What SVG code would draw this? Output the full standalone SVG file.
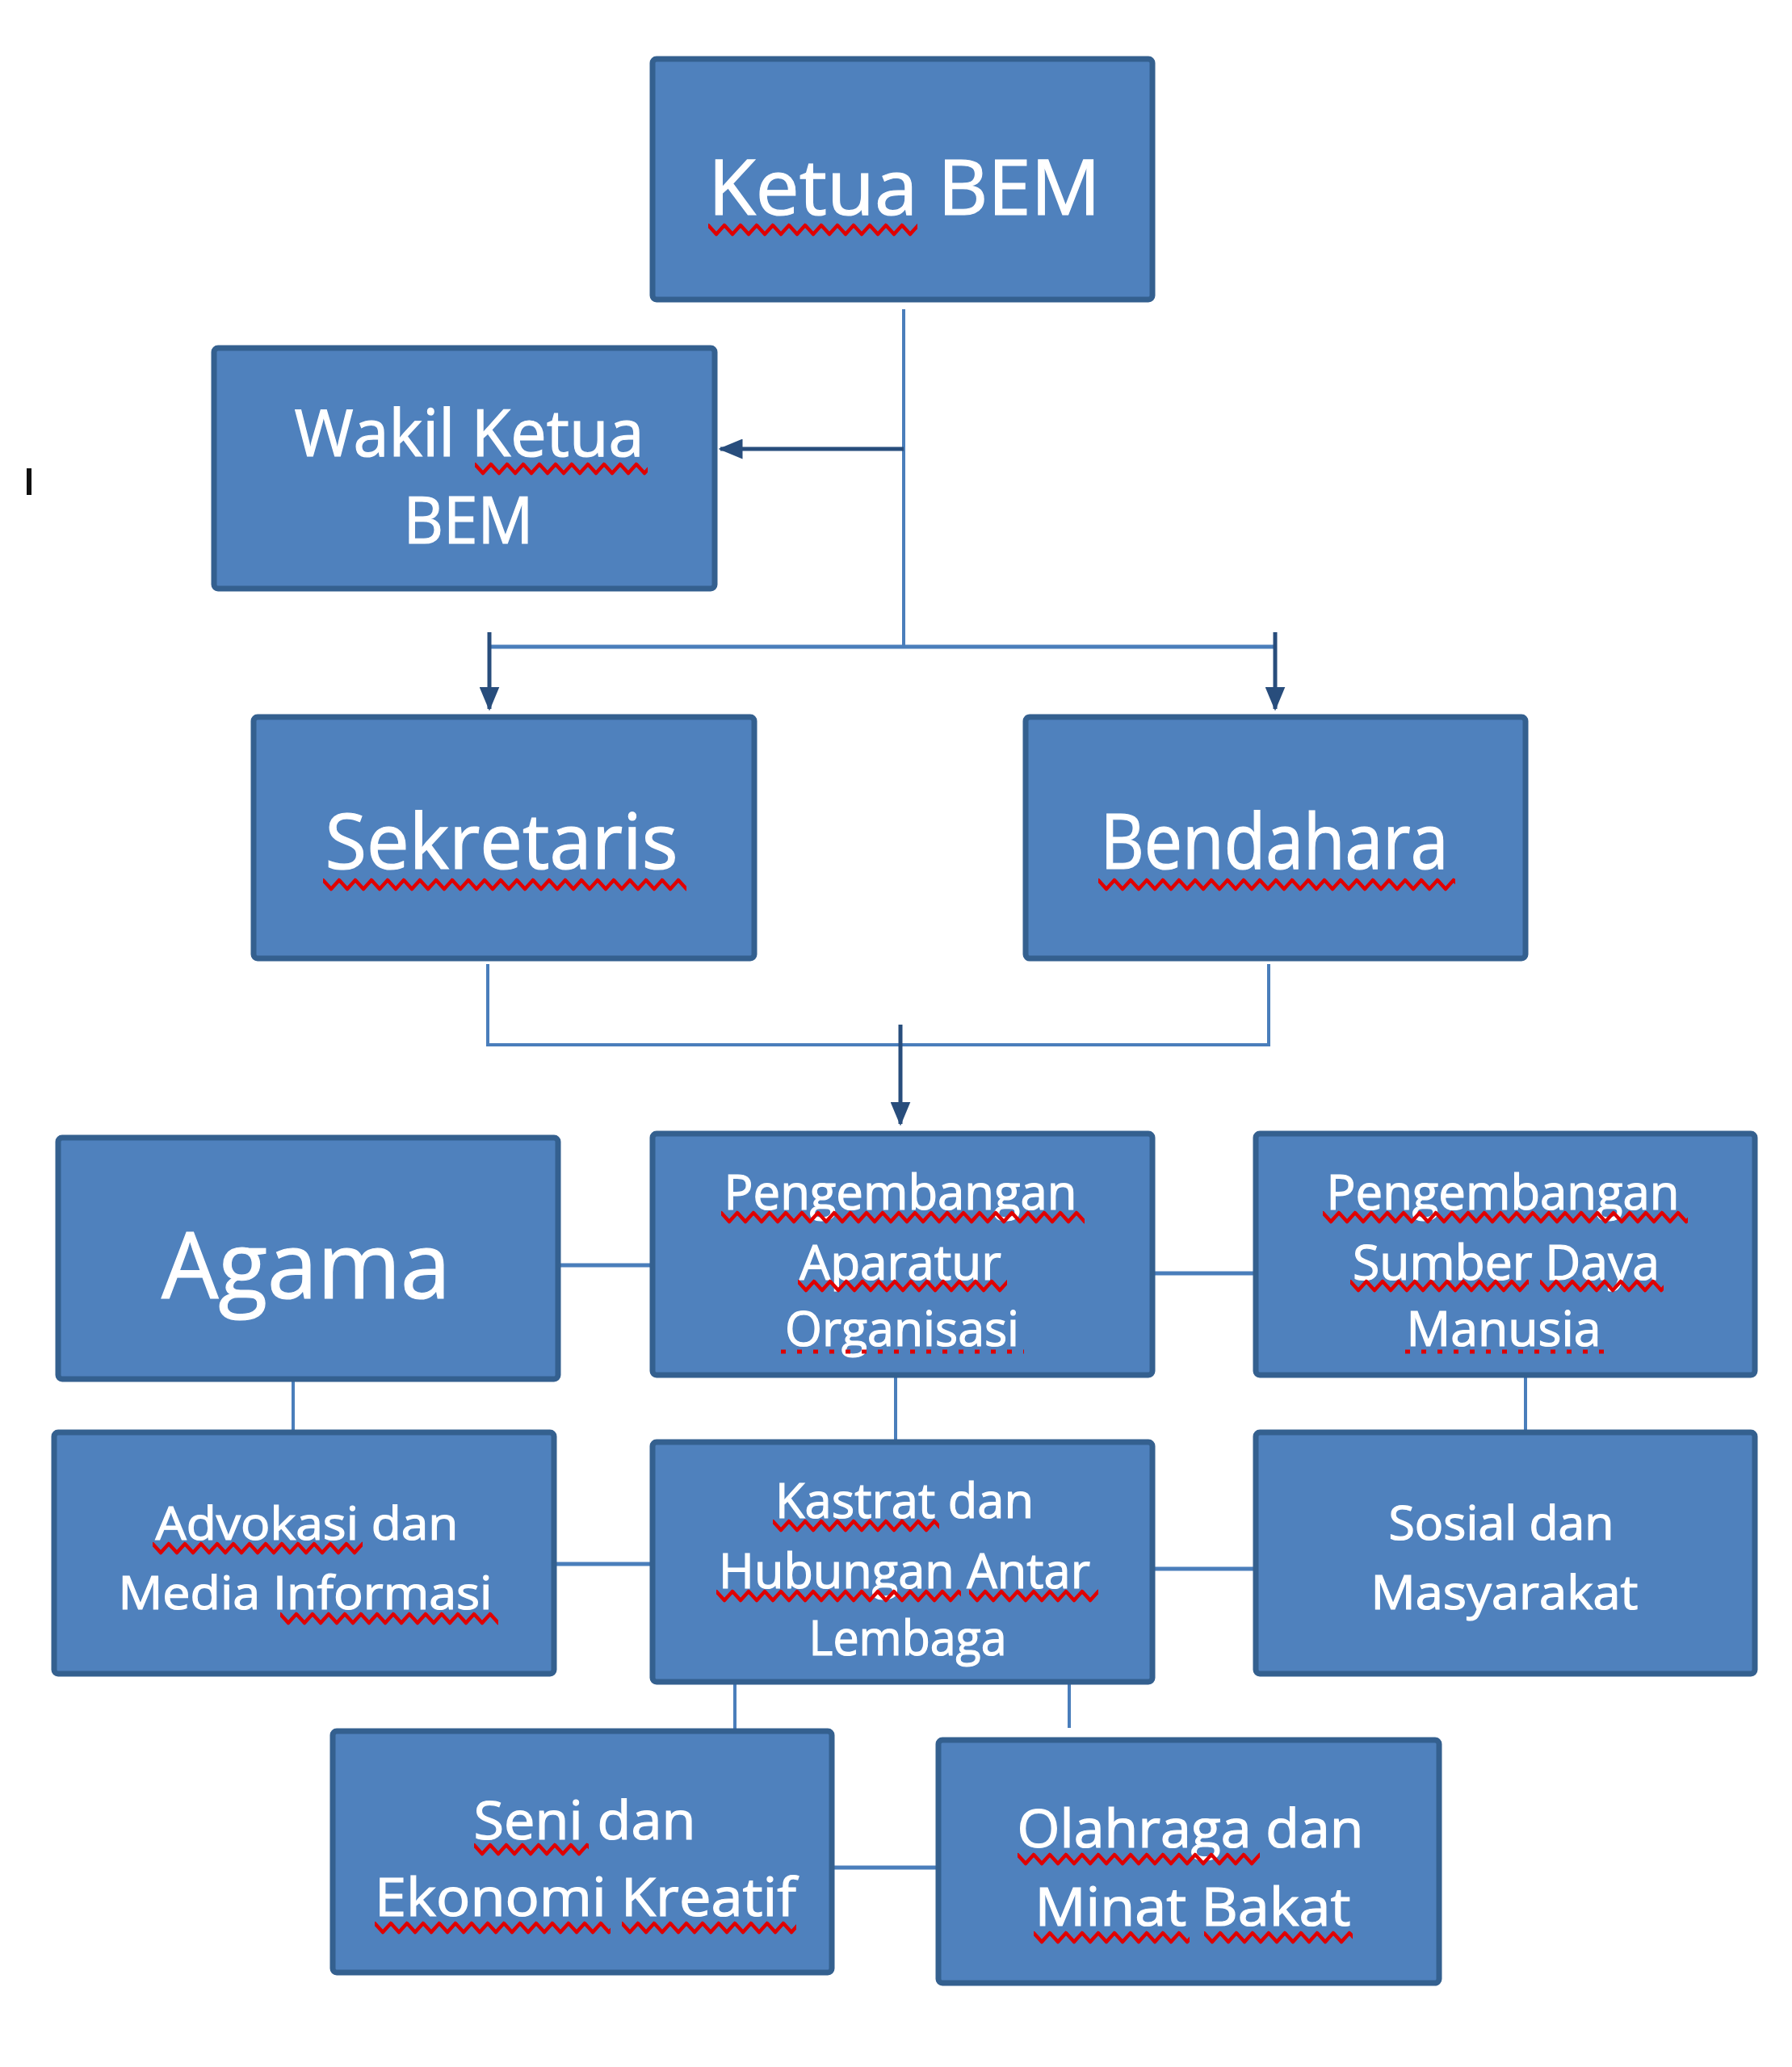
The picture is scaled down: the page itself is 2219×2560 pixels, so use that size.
<svg xmlns="http://www.w3.org/2000/svg" width="2219" height="2560" viewBox="0 0 2219 2560">
<style>
.box{fill:#4f81bd;stroke:#34608f;stroke-width:7}
.t{fill:#ffffff;stroke:#ffffff;stroke-width:1.2;font-family:"Open Sans","Liberation Sans",sans-serif;text-anchor:middle}
.ln{stroke:#4a7ebb;stroke-width:4;fill:none}
.ar{stroke:#284d7c;stroke-width:5;fill:none;marker-end:url(#ah)}
.dot{stroke:#e00000;stroke-width:5;stroke-dasharray:6 14;fill:none}
</style>
<defs>
<marker id="ah" viewBox="0 0 12 10" refX="11" refY="5" markerWidth="6" markerHeight="5" orient="auto" markerUnits="strokeWidth">
<path d="M0,0 L12,5 L0,10 z" fill="#284d7c"/>
</marker>
<pattern id="sq" width="20" height="18" patternUnits="userSpaceOnUse">
<path d="M-5,10 L0,3 L10,14 L20,3 L25,10" stroke="#e00000" stroke-width="4.5" fill="none" stroke-linejoin="round"/>
</pattern>
</defs>
<rect width="2219" height="2560" fill="#ffffff"/>
<rect x="33" y="580" width="6" height="33" fill="#111111"/>

<g id="connectors">
<line class="ln" x1="1119" y1="383" x2="1119" y2="801"/>
<line class="ar" x1="1119" y1="556" x2="892" y2="556"/>
<line class="ln" x1="606" y1="801" x2="1579" y2="801" style="stroke-width:5"/>
<line class="ar" x1="606" y1="783" x2="606" y2="878"/>
<line class="ar" x1="1579" y1="783" x2="1579" y2="878"/>
<polyline class="ln" points="604,1194 604,1294 1571,1294 1571,1194"/>
<line class="ar" x1="1115" y1="1269" x2="1115" y2="1392"/>
<line class="ln" x1="691" y1="1567" x2="808" y2="1567" style="stroke-width:5"/>
<line class="ln" x1="1427" y1="1577" x2="1555" y2="1577" style="stroke-width:5"/>
<line class="ln" x1="363" y1="1708" x2="363" y2="1774"/>
<line class="ln" x1="1109" y1="1703" x2="1109" y2="1786"/>
<line class="ln" x1="1889" y1="1703" x2="1889" y2="1774"/>
<line class="ln" x1="686" y1="1937" x2="808" y2="1937" style="stroke-width:5"/>
<line class="ln" x1="1427" y1="1943" x2="1555" y2="1943" style="stroke-width:5"/>
<line class="ln" x1="910" y1="2083" x2="910" y2="2144"/>
<line class="ln" x1="1324" y1="2083" x2="1324" y2="2140"/>
<line class="ln" x1="1030" y1="2313" x2="1162" y2="2313" style="stroke-width:5"/>
</g>

<g id="ketua">
<rect class="box" x="808" y="73" width="619" height="298" rx="5"/>
<text class="t" x="1120" y="266" font-size="96" textLength="486" lengthAdjust="spacingAndGlyphs">Ketua BEM</text>
<g transform="translate(877,276)"><rect width="259" height="18" fill="url(#sq)"/></g>
</g>

<g id="wakil">
<rect class="box" x="265" y="431" width="620" height="298" rx="5"/>
<text class="t" x="581" y="565" font-size="81" textLength="433" lengthAdjust="spacingAndGlyphs">Wakil Ketua</text>
<text class="t" x="580" y="673" font-size="81" textLength="161" lengthAdjust="spacingAndGlyphs">BEM</text>
<g transform="translate(588,572)"><rect width="214" height="18" fill="url(#sq)"/></g>
</g>

<g id="sekretaris">
<rect class="box" x="314" y="888" width="620" height="299" rx="5"/>
<text class="t" x="621" y="1076" font-size="95" textLength="437" lengthAdjust="spacingAndGlyphs">Sekretaris</text>
<g transform="translate(400,1087)"><rect width="450" height="18" fill="url(#sq)"/></g>
</g>

<g id="bendahara">
<rect class="box" x="1270" y="888" width="619" height="299" rx="5"/>
<text class="t" x="1578" y="1076" font-size="95" textLength="431" lengthAdjust="spacingAndGlyphs">Bendahara</text>
<g transform="translate(1360,1087)"><rect width="442" height="18" fill="url(#sq)"/></g>
</g>

<g id="agama">
<rect class="box" x="72" y="1409" width="619" height="299" rx="5"/>
<text class="t" x="379" y="1608" font-size="113" textLength="358" lengthAdjust="spacingAndGlyphs">Agama</text>
</g>

<g id="pao">
<rect class="box" x="808" y="1404" width="619" height="299" rx="5"/>
<text class="t" x="1115" y="1498" font-size="61" textLength="437" lengthAdjust="spacingAndGlyphs">Pengembangan</text>
<text class="t" x="1115" y="1585" font-size="61" textLength="250" lengthAdjust="spacingAndGlyphs">Aparatur</text>
<text class="t" x="1117" y="1667" font-size="61" textLength="290" lengthAdjust="spacingAndGlyphs">Organisasi</text>
<g transform="translate(893,1499)"><rect width="450" height="18" fill="url(#sq)"/></g>
<g transform="translate(988,1584)"><rect width="259" height="18" fill="url(#sq)"/></g>
<line class="dot" x1="967" y1="1674" x2="1268" y2="1674"/>
</g>

<g id="psdm">
<rect class="box" x="1555" y="1404" width="618" height="299" rx="5"/>
<text class="t" x="1861" y="1498" font-size="61" textLength="437" lengthAdjust="spacingAndGlyphs">Pengembangan</text>
<text class="t" x="1865" y="1585" font-size="61" textLength="380" lengthAdjust="spacingAndGlyphs">Sumber Daya</text>
<text class="t" x="1862" y="1667" font-size="61" textLength="241" lengthAdjust="spacingAndGlyphs">Manusia</text>
<g transform="translate(1638,1499)"><rect width="452" height="18" fill="url(#sq)"/></g>
<g transform="translate(1672,1584)"><rect width="221" height="18" fill="url(#sq)"/></g>
<g transform="translate(1907,1584)"><rect width="153" height="18" fill="url(#sq)"/></g>
<line class="dot" x1="1740" y1="1674" x2="1987" y2="1674"/>
</g>

<g id="advokasi">
<rect class="box" x="67" y="1774" width="619" height="299" rx="5"/>
<text class="t" x="380" y="1907" font-size="57" textLength="375" lengthAdjust="spacingAndGlyphs">Advokasi dan</text>
<text class="t" x="378" y="1993" font-size="57" textLength="463" lengthAdjust="spacingAndGlyphs">Media Informasi</text>
<g transform="translate(189,1909)"><rect width="260" height="18" fill="url(#sq)"/></g>
<g transform="translate(347,1996)"><rect width="270" height="18" fill="url(#sq)"/></g>
</g>

<g id="kastrat">
<rect class="box" x="808" y="1786" width="619" height="297" rx="5"/>
<text class="t" x="1120" y="1880" font-size="61" textLength="320" lengthAdjust="spacingAndGlyphs">Kastrat dan</text>
<text class="t" x="1120" y="1967" font-size="61" textLength="460" lengthAdjust="spacingAndGlyphs">Hubungan Antar</text>
<text class="t" x="1124" y="2050" font-size="61" textLength="245" lengthAdjust="spacingAndGlyphs">Lembaga</text>
<g transform="translate(957,1881)"><rect width="206" height="18" fill="url(#sq)"/></g>
<g transform="translate(887,1968)"><rect width="303" height="18" fill="url(#sq)"/></g>
<g transform="translate(1200,1968)"><rect width="160" height="18" fill="url(#sq)"/></g>
</g>

<g id="sosial">
<rect class="box" x="1555" y="1774" width="618" height="299" rx="5"/>
<text class="t" x="1859" y="1907" font-size="58" textLength="279" lengthAdjust="spacingAndGlyphs">Sosial dan</text>
<text class="t" x="1863" y="1993" font-size="58" textLength="331" lengthAdjust="spacingAndGlyphs">Masyarakat</text>
</g>

<g id="seni">
<rect class="box" x="412" y="2144" width="618" height="299" rx="5"/>
<text class="t" x="724" y="2278" font-size="66" textLength="275" lengthAdjust="spacingAndGlyphs">Seni dan</text>
<text class="t" x="725" y="2373" font-size="66" textLength="522" lengthAdjust="spacingAndGlyphs">Ekonomi Kreatif</text>
<g transform="translate(587,2282)"><rect width="142" height="18" fill="url(#sq)"/></g>
<g transform="translate(464,2379)"><rect width="292" height="18" fill="url(#sq)"/></g>
<g transform="translate(770,2379)"><rect width="216" height="18" fill="url(#sq)"/></g>
</g>

<g id="olahraga">
<rect class="box" x="1162" y="2155" width="620" height="301" rx="5"/>
<text class="t" x="1474" y="2288" font-size="66" textLength="429" lengthAdjust="spacingAndGlyphs">Olahraga dan</text>
<text class="t" x="1477" y="2385" font-size="66" textLength="391" lengthAdjust="spacingAndGlyphs">Minat Bakat</text>
<g transform="translate(1260,2294)"><rect width="300" height="18" fill="url(#sq)"/></g>
<g transform="translate(1280,2391)"><rect width="193" height="18" fill="url(#sq)"/></g>
<g transform="translate(1491,2391)"><rect width="184" height="18" fill="url(#sq)"/></g>
</g>
</svg>
